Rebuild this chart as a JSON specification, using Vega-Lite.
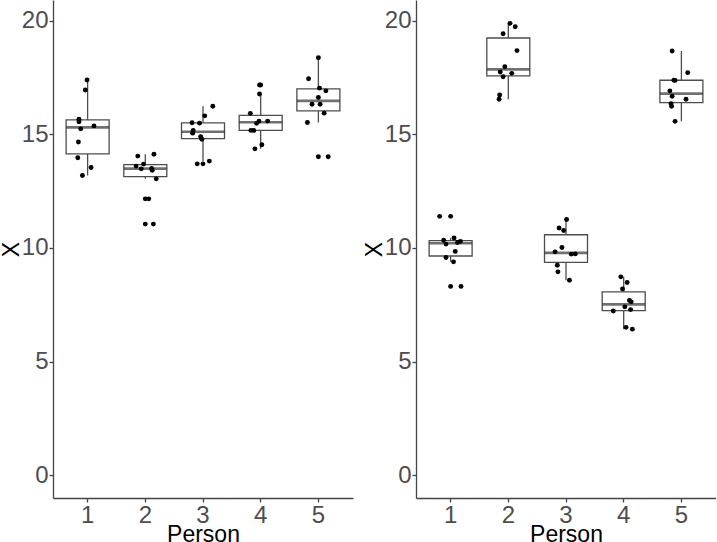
{
  "$schema": "https://vega.github.io/schema/vega-lite/v6.json",
  "padding": 0,
  "background": "white",
  "spacing": 10,
  "datasets": {
    "d": [
      {"panel": "A", "Person": "1", "X": 17.39, "jitter": -0.01},
      {"panel": "A", "Person": "1", "X": 16.95, "jitter": -0.04},
      {"panel": "A", "Person": "1", "X": 15.66, "jitter": -0.15},
      {"panel": "A", "Person": "1", "X": 15.55, "jitter": -0.15},
      {"panel": "A", "Person": "1", "X": 15.24, "jitter": -0.12},
      {"panel": "A", "Person": "1", "X": 15.37, "jitter": 0.11},
      {"panel": "A", "Person": "1", "X": 14.66, "jitter": -0.16},
      {"panel": "A", "Person": "1", "X": 13.97, "jitter": -0.17},
      {"panel": "A", "Person": "1", "X": 13.54, "jitter": 0.06},
      {"panel": "A", "Person": "1", "X": 13.19, "jitter": -0.09},
      {"panel": "A", "Person": "2", "X": 14.04, "jitter": -0.13},
      {"panel": "A", "Person": "2", "X": 14.12, "jitter": 0.15},
      {"panel": "A", "Person": "2", "X": 13.60, "jitter": -0.16},
      {"panel": "A", "Person": "2", "X": 13.69, "jitter": -0.03},
      {"panel": "A", "Person": "2", "X": 13.48, "jitter": -0.07},
      {"panel": "A", "Person": "2", "X": 13.50, "jitter": 0.11},
      {"panel": "A", "Person": "2", "X": 13.42, "jitter": 0.12},
      {"panel": "A", "Person": "2", "X": 13.04, "jitter": 0.19},
      {"panel": "A", "Person": "2", "X": 12.16, "jitter": 0.06},
      {"panel": "A", "Person": "2", "X": 11.05, "jitter": 0.14},
      {"panel": "A", "Person": "3", "X": 16.23, "jitter": 0.17},
      {"panel": "A", "Person": "3", "X": 15.81, "jitter": 0.03},
      {"panel": "A", "Person": "3", "X": 15.51, "jitter": -0.19},
      {"panel": "A", "Person": "3", "X": 15.49, "jitter": -0.06},
      {"panel": "A", "Person": "3", "X": 15.17, "jitter": -0.17},
      {"panel": "A", "Person": "3", "X": 15.05, "jitter": -0.18},
      {"panel": "A", "Person": "3", "X": 14.89, "jitter": -0.04},
      {"panel": "A", "Person": "3", "X": 14.78, "jitter": -0.02},
      {"panel": "A", "Person": "3", "X": 13.70, "jitter": -0.10},
      {"panel": "A", "Person": "3", "X": 13.82, "jitter": 0.11},
      {"panel": "A", "Person": "4", "X": 17.17, "jitter": -0.02},
      {"panel": "A", "Person": "4", "X": 16.77, "jitter": -0.02},
      {"panel": "A", "Person": "4", "X": 15.92, "jitter": -0.18},
      {"panel": "A", "Person": "4", "X": 15.48, "jitter": -0.07},
      {"panel": "A", "Person": "4", "X": 15.58, "jitter": -0.03},
      {"panel": "A", "Person": "4", "X": 15.58, "jitter": 0.12},
      {"panel": "A", "Person": "4", "X": 15.17, "jitter": -0.17},
      {"panel": "A", "Person": "4", "X": 15.17, "jitter": -0.12},
      {"panel": "A", "Person": "4", "X": 14.36, "jitter": -0.10},
      {"panel": "A", "Person": "4", "X": 14.54, "jitter": 0.02},
      {"panel": "A", "Person": "5", "X": 18.37, "jitter": 0.0},
      {"panel": "A", "Person": "5", "X": 17.44, "jitter": -0.17},
      {"panel": "A", "Person": "5", "X": 17.03, "jitter": 0.02},
      {"panel": "A", "Person": "5", "X": 16.91, "jitter": 0.13},
      {"panel": "A", "Person": "5", "X": 16.62, "jitter": 0.0},
      {"panel": "A", "Person": "5", "X": 16.32, "jitter": -0.11},
      {"panel": "A", "Person": "5", "X": 16.32, "jitter": 0.03},
      {"panel": "A", "Person": "5", "X": 15.93, "jitter": 0.10},
      {"panel": "A", "Person": "5", "X": 15.52, "jitter": -0.19},
      {"panel": "A", "Person": "5", "X": 14.01, "jitter": 0.17},
      {"panel": "B", "Person": "1", "X": 11.39, "jitter": -0.19},
      {"panel": "B", "Person": "1", "X": 10.34, "jitter": -0.12},
      {"panel": "B", "Person": "1", "X": 10.44, "jitter": 0.06},
      {"panel": "B", "Person": "1", "X": 10.17, "jitter": -0.08},
      {"panel": "B", "Person": "1", "X": 10.24, "jitter": 0.12},
      {"panel": "B", "Person": "1", "X": 10.29, "jitter": 0.17},
      {"panel": "B", "Person": "1", "X": 9.85, "jitter": 0.08},
      {"panel": "B", "Person": "1", "X": 9.58, "jitter": -0.08},
      {"panel": "B", "Person": "1", "X": 9.39, "jitter": 0.05},
      {"panel": "B", "Person": "1", "X": 8.31, "jitter": 0.18},
      {"panel": "B", "Person": "2", "X": 19.88, "jitter": 0.03},
      {"panel": "B", "Person": "2", "X": 19.73, "jitter": 0.12},
      {"panel": "B", "Person": "2", "X": 19.42, "jitter": -0.09},
      {"panel": "B", "Person": "2", "X": 18.68, "jitter": 0.15},
      {"panel": "B", "Person": "2", "X": 17.97, "jitter": -0.06},
      {"panel": "B", "Person": "2", "X": 17.74, "jitter": -0.14},
      {"panel": "B", "Person": "2", "X": 17.68, "jitter": 0.06},
      {"panel": "B", "Person": "2", "X": 17.53, "jitter": -0.09},
      {"panel": "B", "Person": "2", "X": 16.73, "jitter": -0.15},
      {"panel": "B", "Person": "2", "X": 16.54, "jitter": -0.16},
      {"panel": "B", "Person": "3", "X": 11.25, "jitter": 0.01},
      {"panel": "B", "Person": "3", "X": 10.88, "jitter": -0.12},
      {"panel": "B", "Person": "3", "X": 10.77, "jitter": -0.04},
      {"panel": "B", "Person": "3", "X": 10.02, "jitter": -0.07},
      {"panel": "B", "Person": "3", "X": 9.83, "jitter": -0.19},
      {"panel": "B", "Person": "3", "X": 9.73, "jitter": 0.09},
      {"panel": "B", "Person": "3", "X": 9.74, "jitter": 0.16},
      {"panel": "B", "Person": "3", "X": 9.24, "jitter": -0.15},
      {"panel": "B", "Person": "3", "X": 8.95, "jitter": -0.14},
      {"panel": "B", "Person": "3", "X": 8.58, "jitter": 0.06},
      {"panel": "B", "Person": "4", "X": 8.73, "jitter": -0.05},
      {"panel": "B", "Person": "4", "X": 8.48, "jitter": 0.06},
      {"panel": "B", "Person": "4", "X": 8.20, "jitter": -0.02},
      {"panel": "B", "Person": "4", "X": 7.69, "jitter": 0.10},
      {"panel": "B", "Person": "4", "X": 7.63, "jitter": 0.13},
      {"panel": "B", "Person": "4", "X": 7.41, "jitter": 0.02},
      {"panel": "B", "Person": "4", "X": 7.29, "jitter": 0.12},
      {"panel": "B", "Person": "4", "X": 7.23, "jitter": -0.18},
      {"panel": "B", "Person": "4", "X": 6.51, "jitter": 0.04},
      {"panel": "B", "Person": "4", "X": 6.43, "jitter": 0.15},
      {"panel": "B", "Person": "5", "X": 18.66, "jitter": -0.16},
      {"panel": "B", "Person": "5", "X": 17.71, "jitter": 0.11},
      {"panel": "B", "Person": "5", "X": 17.37, "jitter": -0.11},
      {"panel": "B", "Person": "5", "X": 17.38, "jitter": -0.13},
      {"panel": "B", "Person": "5", "X": 16.91, "jitter": -0.20},
      {"panel": "B", "Person": "5", "X": 16.67, "jitter": -0.16},
      {"panel": "B", "Person": "5", "X": 16.54, "jitter": 0.08},
      {"panel": "B", "Person": "5", "X": 16.34, "jitter": -0.18},
      {"panel": "B", "Person": "5", "X": 16.23, "jitter": -0.17},
      {"panel": "B", "Person": "5", "X": 15.57, "jitter": -0.11}
    ]
  },
  "data": {"name": "d"},
  "hconcat": [
    {
      "width": 300,
      "height": 498,
      "transform": [{"filter": "datum.panel == 'A'"}],
      "encoding": {
        "x": {"field": "Person", "type": "nominal", "scale": {"paddingInner": 0, "paddingOuter": 0.1}, "axis": {"title": "Person", "labelAngle": 0}},
        "y": {"field": "X", "type": "quantitative", "scale": {"domain": [-0.996, 20.906], "nice": false, "zero": false}, "axis": {"title": "X", "values": [0, 5, 10, 15, 20]}}
      },
      "layer": [
        {
          "mark": {"type": "boxplot", "extent": 1.5, "size": 43,
            "box": {"fill": "white", "stroke": "#4d4d4d", "strokeWidth": 1.3},
            "median": {"color": "#333333", "thickness": 2.6},
            "rule": {"color": "#4d4d4d", "strokeWidth": 1.3},
            "outliers": {"filled": true, "color": "black", "size": 24, "opacity": 1}}
        },
        {
          "mark": {"type": "point", "filled": true, "color": "black", "size": 24, "opacity": 1},
          "encoding": {"xOffset": {"field": "jitter", "type": "quantitative", "scale": {"domain": [-0.5, 0.5]}}}
        }
      ]
    },
    {
      "width": 300,
      "height": 498,
      "transform": [{"filter": "datum.panel == 'B'"}],
      "encoding": {
        "x": {"field": "Person", "type": "nominal", "scale": {"paddingInner": 0, "paddingOuter": 0.1}, "axis": {"title": "Person", "labelAngle": 0}},
        "y": {"field": "X", "type": "quantitative", "scale": {"domain": [-0.996, 20.906], "nice": false, "zero": false}, "axis": {"title": "X", "values": [0, 5, 10, 15, 20]}}
      },
      "layer": [
        {
          "mark": {"type": "boxplot", "extent": 1.5, "size": 43,
            "box": {"fill": "white", "stroke": "#4d4d4d", "strokeWidth": 1.3},
            "median": {"color": "#333333", "thickness": 2.6},
            "rule": {"color": "#4d4d4d", "strokeWidth": 1.3},
            "outliers": {"filled": true, "color": "black", "size": 24, "opacity": 1}}
        },
        {
          "mark": {"type": "point", "filled": true, "color": "black", "size": 24, "opacity": 1},
          "encoding": {"xOffset": {"field": "jitter", "type": "quantitative", "scale": {"domain": [-0.5, 0.5]}}}
        }
      ]
    }
  ],
  "config": {
    "font": "Liberation Sans",
    "view": {"stroke": null},
    "axis": {
      "grid": false,
      "labelFont": "Liberation Sans",
      "labelFontSize": 24,
      "labelColor": "#4d4d4d",
      "labelPadding": 1,
      "titleFont": "Liberation Sans",
      "titleFontSize": 23,
      "titleFontWeight": "normal",
      "titleColor": "black",
      "domainColor": "#444444",
      "domainWidth": 1.3,
      "tickColor": "#444444",
      "tickWidth": 1.3,
      "tickSize": 4
    },
    "axisY": {"titlePadding": -1.7},
    "axisX": {"titlePadding": -4}
  }
}
